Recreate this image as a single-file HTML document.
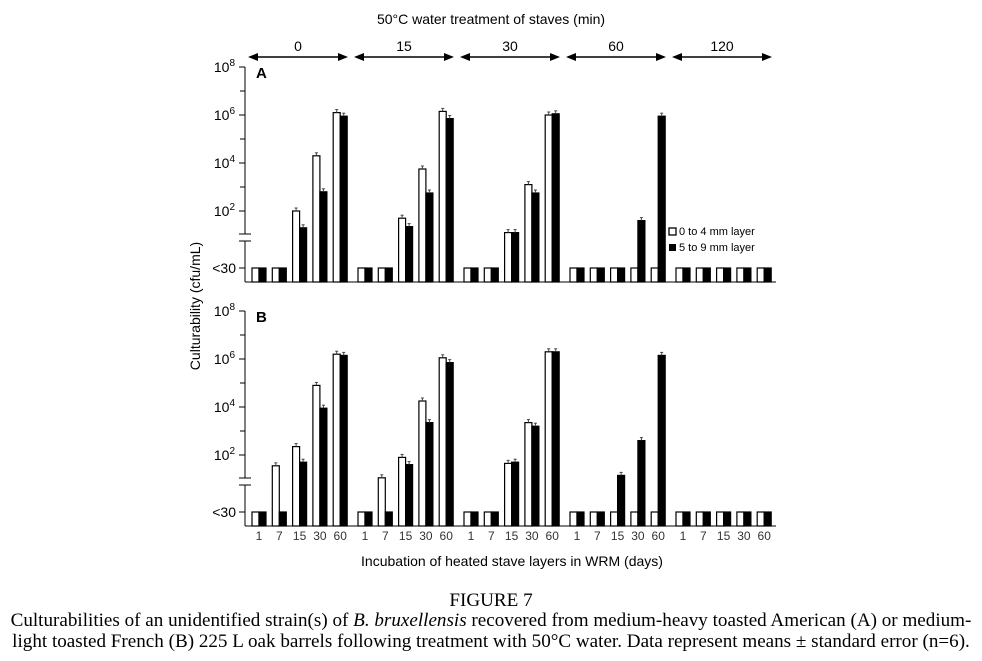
<!DOCTYPE html>
<html><head><meta charset="utf-8"><style>
body{margin:0;background:#fff;width:982px;height:661px;overflow:hidden}
svg text{font-family:"Liberation Sans",sans-serif}
.cap{position:absolute;left:-20px;width:1022px;text-align:center;font-family:"Liberation Serif",serif;font-size:19.1px;color:#000;white-space:nowrap}
</style></head><body>
<svg id="chart" width="982" height="580" style="position:absolute;left:0;top:0"></svg>
<div class="cap" style="top:590px">FIGURE 7</div>
<div class="cap" style="top:611px;line-height:20.5px">Culturabilities of an unidentified strain(s) of <i>B. bruxellensis</i> recovered from medium-heavy toasted American (A) or medium-<br>light toasted French (B) 225 L oak barrels following treatment with 50°C water. Data represent means ± standard error (n=6).</div>
<script>
const treatments=["0","15","30","60","120"];
const days=["1","7","15","30","60"];
// log10 values; null = <30
const panelAWhite=[[null,null,2.0,4.3,6.1],[null,null,1.7,3.75,6.15],[null,null,1.1,3.1,6.0],[null,null,null,null,null],[null,null,null,null,null]];
const panelABlack=[[null,null,1.3,2.8,5.95],[null,null,1.35,2.75,5.85],[null,null,1.1,2.75,6.05],[null,null,null,1.6,5.95],[null,null,null,null,null]];
const panelBWhite=[[null,1.55,2.35,4.9,6.2],[null,1.05,1.9,4.25,6.05],[null,null,1.65,3.35,6.3],[null,null,null,null,null],[null,null,null,null,null]];
const panelBBlack=[[null,null,1.7,3.95,6.15],[null,null,1.6,3.35,5.85],[null,null,1.7,3.2,6.3],[null,null,1.15,2.6,6.15],[null,null,null,null,null]];
const yTicks=[2,4,6,8];
const NS="http://www.w3.org/2000/svg";
const svg=document.getElementById('chart');
function mk(tag,attrs,parent){const e=document.createElementNS(NS,tag);for(const k in attrs)e.setAttribute(k,attrs[k]);(parent||svg).appendChild(e);return e;}
function xPos(g,d){return 252+106*g+20.3*d;}
let t=mk('text',{x:491,y:24,'font-size':14,'text-anchor':'middle'});t.textContent="50°C water treatment of staves (min)";


treatments.forEach((tr,g)=>{
  const x0=248+106*g,x1=348+106*g;
  const a=mk('g',{});
  
  
  mk('line',{x1:x0+6,y1:57,x2:x1-6,y2:57,stroke:'#000','stroke-width':1.5},a);
  mk('polygon',{points:`${x0},57 ${x0+10},53 ${x0+10},61`,fill:'#000'},a);
  mk('polygon',{points:`${x1},57 ${x1-10},53 ${x1-10},61`,fill:'#000'},a);
  const l=mk('text',{x:(x0+x1)/2,y:51,'font-size':14,'text-anchor':'middle'},a);l.textContent=tr;
});
function panel(name,top,W,B){
  const y=v=>top+(8-v)*24;
  const lt=top+201, base=top+215;
  const g=mk('g',{});
  
  
  mk('line',{x1:245,y1:top,x2:245,y2:top+167,stroke:'#000'},g);
  mk('line',{x1:245,y1:top+174,x2:245,y2:base,stroke:'#000'},g);
  mk('line',{x1:239,y1:top+167,x2:251,y2:top+167,stroke:'#000'},g);
  mk('line',{x1:239,y1:top+174,x2:251,y2:top+174,stroke:'#000'},g);
  mk('line',{x1:245,y1:base,x2:776,y2:base,stroke:'#000'},g);
  for(let v=3;v<=7;v+=2)mk('line',{x1:240,y1:y(v),x2:245,y2:y(v),stroke:'#000'},g);
  yTicks.forEach(v=>{mk('line',{x1:239,y1:y(v),x2:245,y2:y(v),stroke:'#000'},g);
    const tx=mk('text',{x:235,y:y(v)+5,'font-size':14,'text-anchor':'end'},g);
    tx.innerHTML='10<tspan dy="-6" font-size="10">'+v+'</tspan>';});
  mk('line',{x1:239,y1:lt,x2:245,y2:lt,stroke:'#000'},g);
  const lb=mk('text',{x:236,y:lt+5,'font-size':14,'text-anchor':'end'},g);lb.textContent='<30';
  const pl=mk('text',{x:256,y:top+11,'font-size':15,'font-weight':'bold'},g);pl.textContent=name;
  treatments.forEach((tr,gi)=>days.forEach((d,di)=>{
    const x=xPos(gi,di);
    [[W,'#fff',0],[B,'#000',7]].forEach(([arr,fill,off])=>{
      const v=arr[gi][di];const yt=v===null?lt:y(v);
      const r=mk('rect',{x:x+off,y:yt,width:7,height:base-yt,fill:fill,stroke:'#000','stroke-width':1.2},g);
      
      
      if(v!==null){mk('line',{x1:x+off+3.5,y1:yt,x2:x+off+3.5,y2:yt-3,stroke:'#444'},g);mk('line',{x1:x+off+2,y1:yt-3,x2:x+off+5,y2:yt-3,stroke:'#444'},g);}
    });
  }));
  return base;
}
panel('A',67,panelAWhite,panelABlack);
const bb=panel('B',311,panelBWhite,panelBBlack);
treatments.forEach((tr,gi)=>days.forEach((d,di)=>{const tx=mk('text',{x:xPos(gi,di)+7,y:bb+14,'font-size':12,'text-anchor':'middle',fill:'#333'});tx.textContent=d;
  
  }));
let xt=mk('text',{x:512,y:566,'font-size':14,'text-anchor':'middle'});xt.textContent="Incubation of heated stave layers in WRM (days)";


let yt=mk('text',{x:0,y:0,'font-size':14,'text-anchor':'middle',transform:'translate(200,306) rotate(-90)'});yt.textContent="Culturability (cfu/mL)";


const lg=mk('g',{});


mk('rect',{x:669,y:228,width:7,height:7,fill:'#fff',stroke:'#000','stroke-width':1.3},lg);
let l1=mk('text',{x:679,y:235,'font-size':11},lg);l1.textContent="0 to 4 mm layer";
mk('rect',{x:669,y:244,width:7,height:7,fill:'#000'},lg);
let l2=mk('text',{x:679,y:251,'font-size':11},lg);l2.textContent="5 to 9 mm layer";
</script>
</body></html>
